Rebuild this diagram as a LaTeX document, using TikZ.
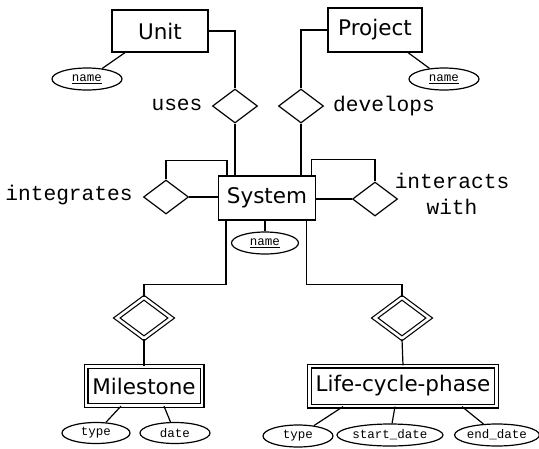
\documentclass[tikz,border=0pt]{standalone}
\usepackage{fontspec}
\usetikzlibrary{shapes.geometric}
\newfontfamily\erfont{DejaVu Sans}
\newfontfamily\lblfont{Liberation Mono}
\tikzset{
  entity/.style={draw, rectangle, inner sep=0pt, font=\erfont\fontsize{21.5}{23}\selectfont},
  weakentity/.style={entity, double, double distance=2.6pt},
  rel/.style={draw, diamond, inner sep=0pt, minimum width=45pt, minimum height=34pt},
  weakrel/.style={rel, double, double distance=2.6pt, minimum width=55pt, minimum height=41pt},
  attr/.style={draw, ellipse, inner sep=0pt, font=\lblfont\fontsize{12.5}{13}\selectfont},
  rellabel/.style={font=\lblfont\fontsize{21.2}{26}\selectfont, align=center}
}
\begin{document}
\begin{tikzpicture}[x=1pt, y=-1pt, line width=1.2pt]
\useasboundingbox (0,0) rectangle (539,448);
% entities
\node[entity, minimum width=96pt, minimum height=42pt] (unit) at (160,31) {Unit};
\node[entity, minimum width=94pt, minimum height=44pt] (proj) at (375,30) {Project};
\node[entity, minimum width=97pt, minimum height=44pt] (sys) at (267,198) {System};
\node[weakentity, minimum width=116pt, minimum height=39pt] (ms) at (144,386) {Milestone};
\node[weakentity, minimum width=187pt, minimum height=40pt] (lc) at (403,386) {Life-cycle-phase};
% relationships
\node[rel] (uses) at (235,106) {};
\node[rel] (dev) at (301,106) {};
\node[rel] (integ) at (166,197) {};
\node[rel] (inter) at (375,199) {};
\node[weakrel] (msrel) at (144,318) {};
\node[weakrel] (lcrel) at (402,318) {};
\node[rellabel] (usesl) at (177,105) {uses};
\node[rellabel] (devl) at (384,106) {develops};
\node[rellabel] (integl) at (69,195) {integrates};
\node[rellabel] (interl) at (452,194) {interacts\\with};
% attributes
\node[attr, minimum width=70pt, minimum height=22pt] (uname) at (87,79) {\underline{name}};
\node[attr, minimum width=70pt, minimum height=22pt] (pname) at (444,79) {\underline{name}};
\node[attr, minimum width=67pt, minimum height=22pt] (sname) at (265,243) {\underline{name}};
\node[attr, minimum width=68pt, minimum height=21pt] (mtype) at (96,433) {type};
\node[attr, minimum width=70pt, minimum height=21pt] (mdate) at (175,433) {date};
\node[attr, minimum width=70pt, minimum height=22pt] (ltype) at (298,436) {type};
\node[attr, minimum width=104pt, minimum height=22pt] (lstart) at (390,435) {start\_date};
\node[attr, minimum width=81pt, minimum height=22pt] (lend) at (497,435) {end\_date};
% connectors
\draw (unit.east) -| (uses.north);
\draw (uses.south) -- (uses.south |- sys.north);
\draw (proj.west) -| (dev.north);
\draw (dev.south) -- (dev.south |- sys.north);
\draw (integ.east) -- (integ.east -| sys.west);
\draw (integ.north) |- ([shift={(9pt,15pt)}]sys.north west) -- ([xshift=9pt]sys.north west);
\draw (inter.west) -- (inter.west -| sys.east);
\draw ([xshift=-5pt]sys.north east) |- ([shift={(-5pt,16pt)}]sys.north east) -| (inter.north);
\draw ([xshift=8pt]sys.south west) -- ++(0,64) -| (msrel.north);
\draw ([xshift=-10pt]sys.south east) -- ++(0,64) -| (lcrel.north);
\draw (msrel.south) -- (ms.north);
\draw (lcrel.south) -- (lc.north);
\draw ([xshift=-35pt]unit.south) -- (uname);
\draw ([xshift=33pt]proj.south) -- (pname);
\draw (sname) -- (sname |- sys.south);
\draw ([xshift=-23pt]ms.south) -- (mtype);
\draw ([xshift=20pt]ms.south) -- (mdate);
\draw ([xshift=-60pt]lc.south) -- (ltype);
\draw ([xshift=-8pt]lc.south) -- (lstart);
\draw ([xshift=59pt]lc.south) -- (lend);
\end{tikzpicture}
\end{document}
